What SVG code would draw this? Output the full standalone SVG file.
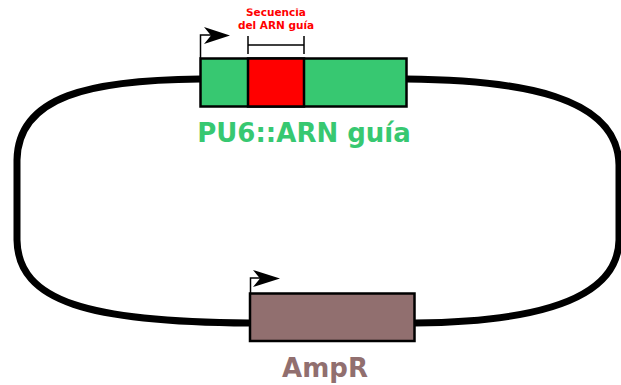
<svg xmlns="http://www.w3.org/2000/svg" width="621" height="385" viewBox="0 0 621 385">
  <defs>
    <style>
      .backbone { fill: none; stroke: #000; stroke-width: 7; stroke-linecap: butt; }
      .part { stroke: #000; stroke-width: 2.5; }
      .thin { fill: none; stroke: #000; stroke-width: 1.5; }
      .lbl { font-family: "DejaVu Sans", sans-serif; font-weight: bold; text-anchor: middle; }
    </style>
    <clipPath id="topclip">
      <rect x="0" y="8.5" width="621" height="40"/>
    </clipPath>
  </defs>
  <rect width="621" height="385" fill="#fff"/>
  <g id="connectors">
    <path class="backbone" d="M200,79 C90,80 18,96 17,160 L17,240 C18,302 90,322 249,323"/>
    <path class="backbone" d="M406,79 C520,80 618,96 619,165 L619,240 C618,302 530,322 415,323"/>
  </g>
  <g id="pu6">
    <rect class="part" x="200.5" y="58.5" width="206" height="48" fill="#37c871"/>
    <rect class="part" x="248" y="58.5" width="56" height="48" fill="#ff0000"/>
    <path class="thin" d="M200.5,58 L200.5,35 L211,35"/>
    <path d="M204,27 L230,35.5 L204,44 L211,35.5 Z" fill="#000"/>
    <path class="thin" d="M248,36 L248,54 M304,36 L304,54 M248,45 L304,45"/>
    <g clip-path="url(#topclip)">
      <text class="lbl" x="276" y="16" font-size="10.5" fill="#ff0000">Secuencia</text>
      <text class="lbl" x="276" y="28.5" font-size="10.5" fill="#ff0000">del ARN guía</text>
    </g>
    <text class="lbl" x="304" y="142" font-size="26" fill="#37c871">PU6::ARN guía</text>
  </g>
  <g id="ampr">
    <rect class="part" x="250" y="293.5" width="164.5" height="47.5" fill="#916f6f"/>
    <path class="thin" d="M250.5,293 L250.5,278 L260,278"/>
    <path d="M253,270 L280,278.5 L253,287 L260,278.5 Z" fill="#000"/>
    <text class="lbl" x="325" y="377" font-size="26" fill="#916f6f">AmpR</text>
  </g>
</svg>
